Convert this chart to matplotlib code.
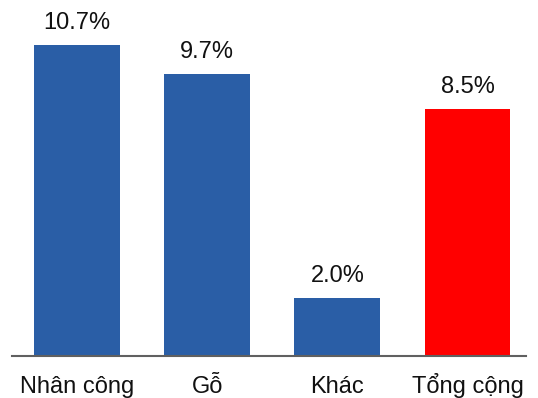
import matplotlib
matplotlib.use("Agg")
import matplotlib.pyplot as plt

categories = ["Nhân công", "Gỗ", "Khác", "Tổng cộng"]
values = [10.7, 9.7, 2.0, 8.5]
labels = ["10.7%", "9.7%", "2.0%", "8.5%"]
colors = ["#2a5ea6", "#2a5ea6", "#2a5ea6", "#ff0000"]

plt.rcParams['font.family'] = ['Liberation Sans', 'DejaVu Sans']

W, H = 538, 398
fig = plt.figure(figsize=(W / 100, H / 100), dpi=100)
base = 356
top_px = 0
ax = fig.add_axes([12 / W, (H - base) / H, (526 - 12) / W, (base - top_px) / H])
scale = (base - 45) / 10.7
ax.set_ylim(0, (base - top_px) / scale)
ax.set_xlim(-0.5, 3.45)

x = list(range(len(categories)))
bars = ax.bar(x, values, width=0.66, color=colors)
for xi, v, lab in zip(x, values, labels):
    ax.annotate(lab, (xi, v), xytext=(0, 8), textcoords="offset points",
                ha="center", va="bottom", fontsize=17, color="#111111")

ax.set_xticks(x)
ax.set_xticklabels(categories, fontsize=17, color="#111111", va="baseline")
ax.tick_params(axis="x", length=0, pad=26.5)
ax.set_yticks([])
for s in ["top", "right", "left"]:
    ax.spines[s].set_visible(False)
ax.spines["bottom"].set_color("#606060")
ax.spines["bottom"].set_linewidth(1.5)
fig.savefig("out.png", dpi=100)
